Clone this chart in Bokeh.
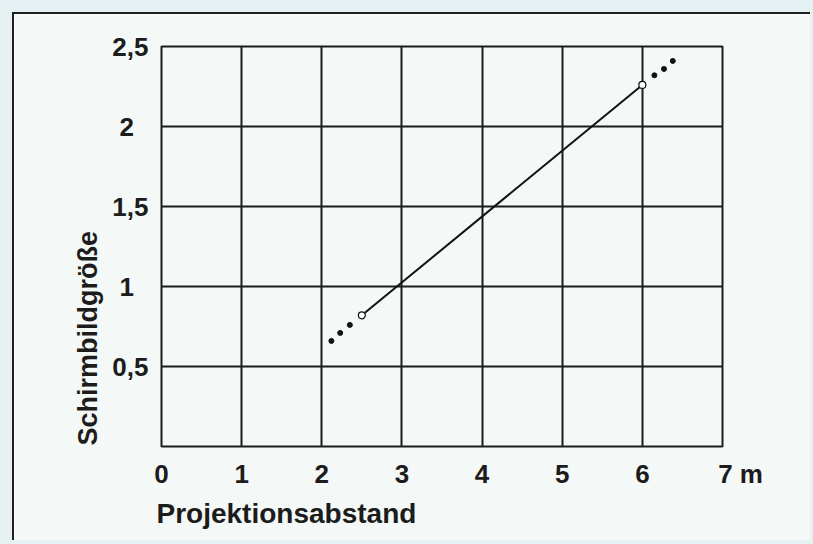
from bokeh.plotting import figure
from bokeh.models import FixedTicker, Title
from bokeh.embed import file_html
from bokeh.resources import INLINE

# ---- data ----
x_ticks = [0, 1, 2, 3, 4, 5, 6, 7]
x_tick_labels = ["0", "1", "2", "3", "4", "5", "6", "\u2007\u2007 7 m"]
y_ticks = [0.5, 1.0, 1.5, 2.0, 2.5]
y_tick_labels = ["0,5", "1\u2007", "1,5", "2\u2007", "2,5"]
y_grid = [0.0, 0.5, 1.0, 1.5, 2.0, 2.5]

line_x = [2.5, 6.0]
line_y = [0.82, 2.26]
dots_low_x = [2.12, 2.23, 2.35]
dots_low_y = [0.66, 0.71, 0.76]
dots_high_x = [6.15, 6.27, 6.38]
dots_high_y = [2.32, 2.36, 2.41]

x_title = "Projektionsabstand"
y_title = "Schirmbildgröße"

# ---- styling ----
BG = "#f4f8f6"
OUTER = "#e6f1f4"
INK = "#1c1c1c"
FONT = "Liberation Sans"

p = figure(width=798, height=528, x_range=(0, 7), y_range=(0, 2.5),
           output_backend="svg", toolbar_location=None,
           min_border_left=147, min_border_right=90,
           min_border_top=32, min_border_bottom=96,
           background_fill_color=BG, border_fill_color=BG)
p.margin = (12, 0, 0, 12)
p.styles = {"border-top": "2px solid #202020", "border-left": "2px solid #202020",
            "box-shadow": "0 0 0 12px " + OUTER}

p.outline_line_color = INK
p.outline_line_width = 2

p.xgrid.ticker = FixedTicker(ticks=x_ticks)
p.ygrid.ticker = FixedTicker(ticks=y_grid)
for g in (p.xgrid, p.ygrid):
    g.grid_line_color = INK
    g.grid_line_width = 2

p.xaxis.ticker = FixedTicker(ticks=x_ticks)
p.xaxis.major_label_overrides = dict(zip(x_ticks, x_tick_labels))
p.yaxis.ticker = FixedTicker(ticks=y_ticks)
p.yaxis.major_label_overrides = dict(zip(y_ticks, y_tick_labels))
for ax in (p.xaxis, p.yaxis):
    ax.axis_line_color = None
    ax.major_tick_line_color = None
    ax.minor_tick_line_color = None
    ax.major_tick_out = 0
    ax.major_tick_in = 0
    ax.major_label_text_font = FONT
    ax.major_label_text_font_size = "26px"
    ax.major_label_text_font_style = "bold"
    ax.major_label_text_color = INK
p.xaxis.major_label_standoff = 12
p.yaxis.major_label_standoff = 13

# axis titles, left/bottom aligned with the frame
p.add_layout(Title(text=x_title, align="left", offset=-5, standoff=8,
                   text_font=FONT, text_font_size="28px", text_font_style="bold",
                   text_color=INK), "below")
p.add_layout(Title(text=y_title, align="left", offset=1, standoff=13,
                   text_font=FONT, text_font_size="27px", text_font_style="bold",
                   text_color=INK), "left")

# data marks
p.line(line_x, line_y, line_color="#111111", line_width=2)
p.scatter(dots_low_x, dots_low_y, size=5, color="#111111")
p.scatter(dots_high_x, dots_high_y, size=5, color="#111111")
p.scatter(line_x, line_y, size=7, fill_color="white", line_color="#111111", line_width=1.2)

open("out.html", "w").write(file_html(p, INLINE))
